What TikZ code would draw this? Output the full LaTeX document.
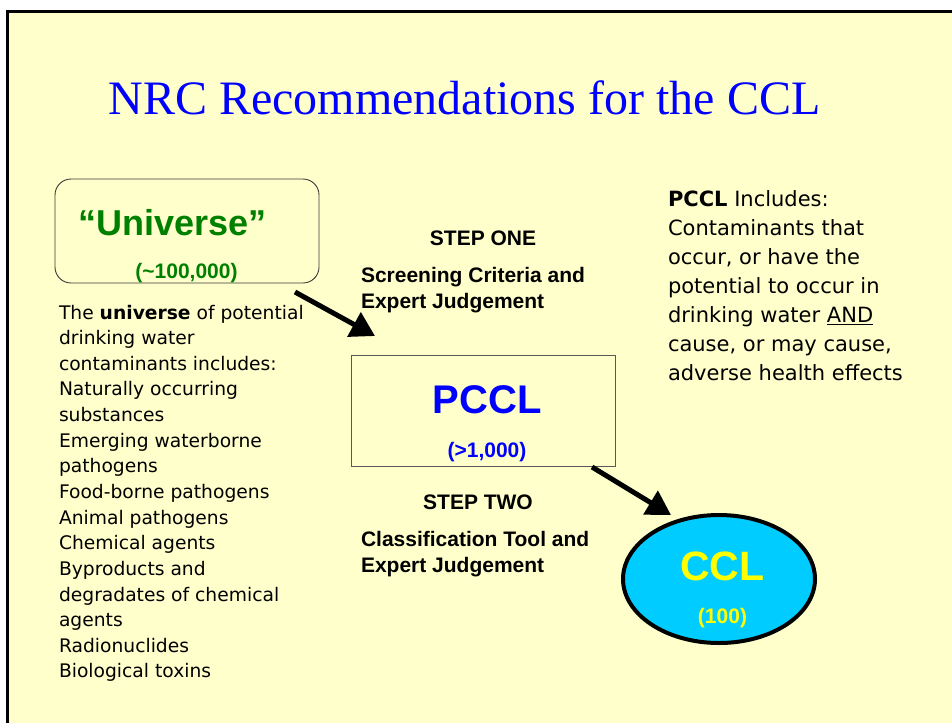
\documentclass[tikz,border=0pt]{standalone}
\usepackage{fontspec}
\usetikzlibrary{arrows.meta,shapes.geometric}
\newfontfamily\serifT{Liberation Serif}
\newfontfamily\sansA{Liberation Sans}
\newfontfamily\sansV{DejaVu Sans}
\definecolor{slidebg}{HTML}{FFFFCC}
\definecolor{titleblue}{HTML}{0000FF}
\definecolor{unigreen}{HTML}{008000}
\definecolor{pcclblue}{HTML}{0000FF}
\definecolor{cclyellow}{HTML}{FFFF00}
\definecolor{cclcyan}{HTML}{00CCFF}
\definecolor{framegray}{HTML}{3A3A3A}
\newcommand{\fs}[2]{\fontsize{#1pt}{#2pt}\selectfont}
\tikzset{
  plain/.style={inner sep=0pt, outer sep=0pt},
  steplabel/.style={plain, anchor=base, font=\sansA\bfseries\fs{21}{25.6}},
  stepnote/.style={plain, anchor=north west, align=left, font=\sansA\bfseries\fs{21}{25.6}},
  bigarrow/.style={line width=5pt, -{Triangle[length=24pt,width=27pt]}},
  listbox/.style={plain, anchor=north west, align=left},
}
\begin{document}
\begin{tikzpicture}[x=1pt,y=-1pt]
\useasboundingbox (0,0) rectangle (952,723);
% slide background and frame
\fill[white] (0,0) rectangle (952,723);
\fill[slidebg] (7.5,11.5) rectangle (952,723);
\draw[line width=3pt] (7.5,723) -- (7.5,11.5) -- (952,11.5);

% title
\node[plain, anchor=base, text=titleblue, font=\serifT\fs{48}{58}] (title) at (464.5,114) {NRC Recommendations for the CCL};

% universe box
\node[plain, draw=framegray, line width=0.9pt, rounded corners=16pt, minimum width=264, minimum height=104] (uni) at (187,231) {};
\node[plain, anchor=base, text=unigreen, font=\sansA\bfseries\fs{36}{40}] (unitxt) at (172.5,235) {“Universe”};
\node[plain, anchor=base, text=unigreen, font=\sansA\bfseries\fs{21}{25}] (unicount) at (186.5,278) {(\textasciitilde100,000)};

% PCCL box
\node[plain, draw=framegray!85, line width=0.8pt, minimum width=264, minimum height=111] (pccl) at (483,410.5) {};
\node[plain, anchor=base, text=pcclblue, font=\sansA\bfseries\fs{40}{44}] (pccltxt) at (487,413) {PCCL};
\node[plain, anchor=base, text=pcclblue, font=\sansA\bfseries\fs{21}{25}] (pcclcount) at (487,457) {(>1,000)};

% CCL ellipse
\node[plain, ellipse, draw, line width=4pt, fill=cclcyan, minimum width=192, minimum height=128] (ccl) at (719,579) {};
\node[plain, anchor=base, text=cclyellow, font=\sansA\bfseries\fs{41}{45}] (ccltxt) at (722.5,580) {CCL};
\node[plain, anchor=base, text=cclyellow, font=\sansA\bfseries\fs{21}{25}] (cclcount) at (722.5,623) {(100)};

% steps
\node[steplabel] (step1) at (483,245) {STEP ONE};
\node[stepnote] (step1note) at (361,267.7) {Screening Criteria and\\Expert Judgement};
\node[steplabel] (step2) at (478,509) {STEP TWO};
\node[stepnote] (step2note) at (361,531.7) {Classification Tool and\\Expert Judgement};

% arrows
\coordinate (a1from) at (295,292);
\coordinate (a1to) at (375,336);
\coordinate (a2from) at (592,467);
\coordinate (a2to) at (671,515);
\draw[bigarrow] (a1from) -- (a1to);
\draw[bigarrow] (a2from) -- (a2to);

% universe description
\node[listbox, font=\sansV\fs{18.7}{25.64}] (unilist) at (59,304.8) {The \textbf{universe} of potential\\
drinking water\\
contaminants includes:\\
Naturally occurring\\
substances\\
Emerging waterborne\\
pathogens\\
Food-borne pathogens\\
Animal pathogens\\
Chemical agents\\
Byproducts and\\
degradates of chemical\\
agents\\
Radionuclides\\
Biological toxins};

% PCCL description
\node[listbox, font=\sansV\fs{21}{29}] (pccldesc) at (668,191) {\textbf{PCCL} Includes:\\
Contaminants that\\
occur, or have the\\
potential to occur in\\
drinking water \underline{AND}\\
cause, or may cause,\\
adverse health effects};
\end{tikzpicture}
\end{document}
